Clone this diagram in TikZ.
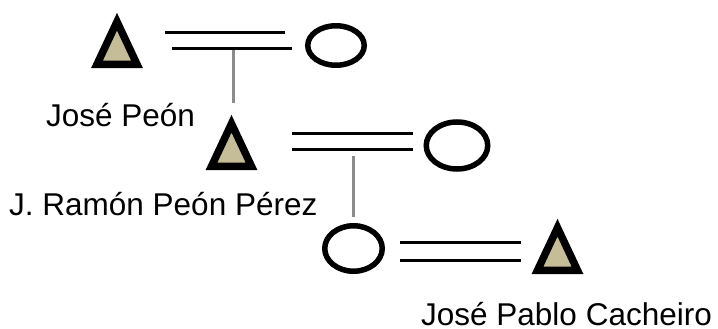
\documentclass[tikz,border=0pt]{standalone}
\usepackage{fontspec}
\setmainfont{Liberation Sans}
\usetikzlibrary{shapes.geometric}
\definecolor{tanfill}{RGB}{196,189,152}
\definecolor{linkgray}{RGB}{140,140,140}
\tikzset{
  malesym/.pic={\path[draw=black,fill=tanfill,line width=7.5pt,line join=miter] (-20,-3.7) -- (20,-3.7) -- (0,-46.3) -- cycle;},
  femalesym/.style={ellipse,draw=black,line width=5.5pt,inner sep=0pt},
  marriage/.style={draw=black,line width=3pt},
  descent/.style={draw=linkgray,line width=3pt},
  personlabel/.style={inner sep=0pt,anchor=base west,font=\fontsize{31.5}{36}\selectfont}
}
\begin{document}
\begin{tikzpicture}[x=1pt,y=-1pt]
\useasboundingbox (0,0) rectangle (718,329);
% symbols
\pic at (117,68) {malesym};
\coordinate (m1) at (117,40);
\node[femalesym,minimum width=56.5pt,minimum height=39.5pt] (f1) at (336,45.5) {};
\pic at (231.5,170) {malesym};
\coordinate (m2) at (231.5,142);
\node[femalesym,minimum width=61.5pt,minimum height=47pt] (f2) at (457,145.5) {};
\node[femalesym,minimum width=57.5pt,minimum height=45.5pt] (f3) at (353.5,248.5) {};
\pic at (557.5,274) {malesym};
\coordinate (m3) at (557.5,246);
% marriage lines
\coordinate (a1) at (165,33); \coordinate (b1) at (285,33);
\coordinate (c1) at (172,49); \coordinate (d1) at (292,49);
\draw[marriage] (a1) -- (b1);
\draw[marriage] (c1) -- (d1);
\coordinate (a2) at (292,133); \coordinate (b2) at (413,133);
\coordinate (c2) at (292,149); \coordinate (d2) at (413,149);
\draw[marriage] (a2) -- (b2);
\draw[marriage] (c2) -- (d2);
\coordinate (a3) at (400,242); \coordinate (b3) at (521,242);
\coordinate (c3) at (400,260); \coordinate (d3) at (521,260);
\draw[marriage] (a3) -- (b3);
\draw[marriage] (c3) -- (d3);
% descent lines
\coordinate (v1t) at (233,50); \coordinate (v1b) at (233,103);
\draw[descent] (v1t) -- (v1b);
\coordinate (v2t) at (353,156); \coordinate (v2b) at (353,217);
\draw[descent] (v2t) -- (v2b);
% names
\node[personlabel] (n1) at (46,126) {José Peón};
\node[personlabel] (n2) at (9,215) {J. Ramón Peón Pérez};
\node[personlabel] (n3) at (421,325) {José Pablo Cacheiro};
\end{tikzpicture}
\end{document}
